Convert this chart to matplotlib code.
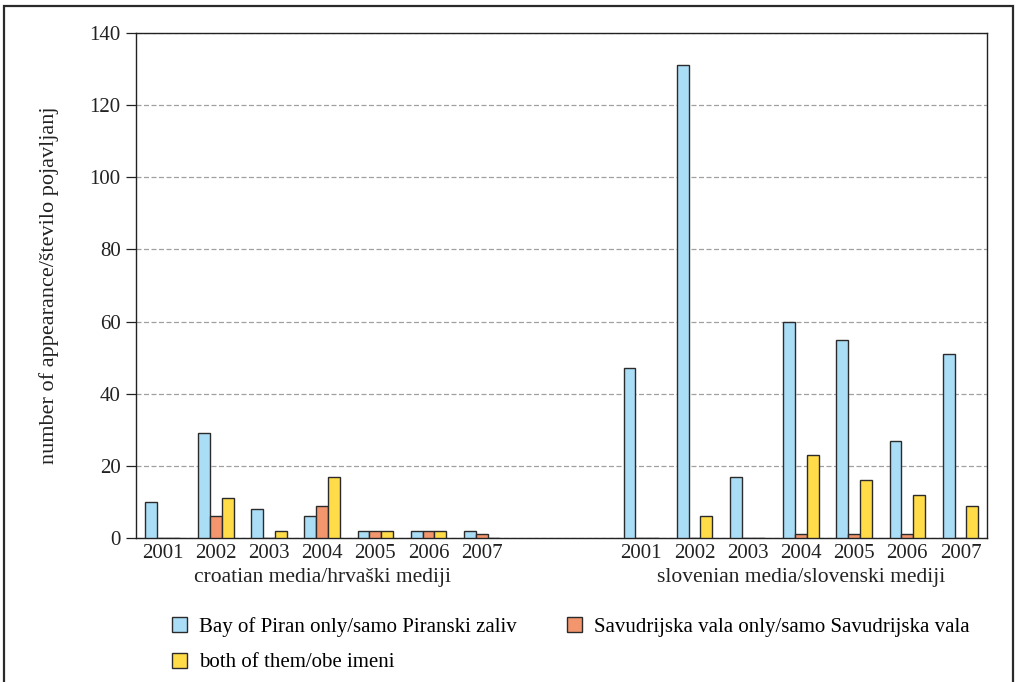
import numpy as np
import matplotlib.pyplot as plt
from matplotlib.patches import Rectangle, Patch

plt.rcParams['font.family'] = ['Liberation Serif', 'DejaVu Serif']

years = ['2001', '2002', '2003', '2004', '2005', '2006', '2007']
groups = ['croatian media/hrvaški mediji', 'slovenian media/slovenski mediji']

# croatian media
hr_piran = [10, 29, 8, 6, 2, 2, 2]
hr_savud = [0, 6, 0, 9, 2, 2, 1]
hr_both = [0, 11, 2, 17, 2, 2, 0]
# slovenian media
si_piran = [47, 131, 17, 60, 55, 27, 51]
si_savud = [0, 0, 0, 1, 1, 1, 0]
si_both = [0, 6, 0, 23, 16, 12, 9]

labels = ['Bay of Piran only/samo Piranski zaliv',
          'Savudrijska vala only/samo Savudrijska vala',
          'both of them/obe imeni']
colors = ['#aadef7', '#f3966e', '#ffdc48']

# 7 years, two empty slots, 7 years
xpos = np.r_[np.arange(7), np.arange(9, 16)]
series = [hr_piran + si_piran, hr_savud + si_savud, hr_both + si_both]

fig = plt.figure(figsize=(10.16, 6.82), dpi=100)
ax = fig.add_axes([0.1339, 0.2111, 0.8376, 0.7405])

w = 0.222
for k, (vals, c) in enumerate(zip(series, colors)):
    ax.bar(xpos + (k - 1) * w, vals, width=w, color=c,
           edgecolor='#2b2b2b', linewidth=1.0, zorder=3)

ax.set_xlim(-0.5, 15.5)
ax.set_ylim(0, 140)
ax.set_yticks(range(0, 141, 20))
ax.yaxis.grid(True, linestyle=(0, (4, 2)), color='#a0a0a0', linewidth=0.9, zorder=0)
ax.set_xticks(xpos)
ax.set_xticklabels(years * 2)
ax.tick_params(axis='x', length=0, pad=4, labelsize=15, colors='#222')
ax.tick_params(axis='y', length=7, pad=4, labelsize=15, colors='#222', width=0.9)
for s in ax.spines.values():
    s.set_linewidth(1.0)
    s.set_color('#222')

ax.set_ylabel('number of appearance/število pojavljanj', fontsize=16, color='#222')
ax.yaxis.set_label_coords(-0.09, 0.5)

trans = ax.get_xaxis_transform()
ax.text(3, -0.079, groups[0], transform=trans, ha='center', va='center',
        fontsize=15.5, color='#222')
ax.text(12, -0.079, groups[1], transform=trans, ha='center', va='center',
        fontsize=15.5, color='#222')

handles = [Patch(facecolor=c, edgecolor='#2b2b2b', linewidth=1.0) for c in colors]
order = [0, 2, 1]
fig.legend([handles[i] for i in order], [labels[i] for i in order],
           loc='upper left', bbox_to_anchor=(172 / 1016, 1 - 617 / 682),
           ncol=2, frameon=False, fontsize=15, borderpad=0, borderaxespad=0,
           handlelength=0.72, handleheight=0.72, handletextpad=0.58,
           labelspacing=0.76, columnspacing=2.4)

# outer frame
fig.patches.append(Rectangle((4 / 1016, -0.05), 1009 / 1016, 1 - 6 / 682 + 0.05,
                             transform=fig.transFigure, fill=False,
                             edgecolor='#2a2a2a', linewidth=1.6))

fig.savefig('out.png', dpi=100)
